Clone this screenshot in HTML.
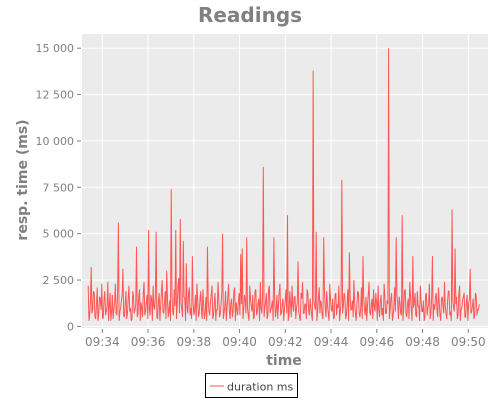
<!DOCTYPE html>
<html><head><meta charset="utf-8"><style>
body{margin:0;background:#fff;}
svg{display:block;font-family:"DejaVu Sans","Liberation Sans",sans-serif;}
</style></head><body>
<svg width="500" height="400">
<text x="250" y="22" text-anchor="middle" font-size="20" font-weight="bold" fill="#808080">Readings</text>
<rect x="82" y="34" width="406" height="294" fill="#ebebeb"/>
<g id="grid"></g>
<g id="yaxis"></g>
<g id="xaxis"></g>
<path id="line" fill="none" stroke="#ff5555" stroke-width="1"/>
<text transform="translate(27,180) rotate(-90)" text-anchor="middle" font-size="14" font-weight="bold" fill="#808080">resp. time (ms)</text>
<text x="284" y="365" text-anchor="middle" font-size="14" font-weight="bold" fill="#808080">time</text>
<g>
<rect x="205.5" y="373.5" width="92" height="24" fill="#fff" stroke="#000"/>
<line x1="210" y1="386" x2="224" y2="386" stroke="#ff5555"/>
<text x="227" y="390.5" font-size="11" fill="#444">duration ms</text>
</g>
</svg>
<script>
const startSec = 9*3600 + 33*60 + 23;
const stepSec = 3.96;
const durations = [
2200,600,3200,900,1800,400,2100,700,1500,2300,
500,1900,800,2400,1100,300,1700,900,2300,600,
5600,800,1400,3100,500,1900,700,2200,1000,400,
1600,900,4300,700,2000,1300,500,2400,800,1700,
5200,600,1500,2200,900,5100,400,1800,1100,2500,
700,1900,3000,500,1400,7400,800,2000,5200,1200,
2600,5800,900,4600,1500,3400,700,2100,1000,3800,
600,1700,2300,500,1400,900,2000,400,1600,4300,
800,1300,2200,600,1800,900,2400,500,1200,5000,
700,1900,1000,2300,400,1500,800,2100,1300,600,
1800,3900,4200,900,1400,4800,600,2200,1100,1700,
500,2000,800,1500,2400,700,8600,1000,1800,600,
2200,900,1400,4800,500,1700,1100,2300,700,1500,
900,2000,6000,600,1300,2200,800,1600,1000,3500,
500,1800,2400,700,1200,2000,900,1500,600,13800,
1100,5100,800,2100,1400,600,4800,1000,1900,700,
2300,900,1500,500,1800,1200,2200,800,7900,1100,
1600,600,2000,4000,900,1400,2500,700,1200,1800,
500,2100,3800,900,1600,1100,2400,600,1500,2000,
800,1300,2200,500,1700,1000,2300,700,1400,15000,
900,1800,600,2100,4800,1200,1600,700,6000,1000,
2000,500,1500,2400,900,3800,1300,600,1900,1100,
2200,800,1400,500,1800,1000,2300,700,3800,1200,
1600,900,2100,600,1500,1100,2400,700,1300,1900,
800,6300,1000,4200,1600,600,2200,900,1400,1800,
500,1700,1200,3100,800,1500,600,1600,900,1200];
const durationsMid = [
300,1400,700,1900,500,1200,300,1600,900,400,
1500,600,1100,300,1800,800,400,1300,700,1900,
300,1000,1700,600,1200,400,1500,800,300,1900,
700,1200,500,1600,300,1000,1800,600,1300,400,
900,1700,300,1100,1600,500,1400,300,1900,800,
1200,400,1500,900,300,1700,600,1100,400,2200,
700,1300,500,1600,300,1000,1800,600,400,1300,
900,300,1500,700,1900,400,1100,800,300,1400,
600,1700,400,1200,300,900,1500,700,1800,400,
1100,300,1600,800,1300,500,1900,300,900,1400,
600,1200,400,1700,700,1000,300,1500,800,400,
1900,600,1200,300,1000,1600,500,1300,400,2000,
700,1100,300,1500,900,400,1800,600,1200,300,
1400,700,300,1900,500,1100,1600,400,1300,800,
300,1500,700,1200,400,1800,600,1000,300,1400,
900,300,1600,700,1200,400,1900,500,1100,300,
1500,800,400,1700,600,1000,300,1400,700,1800,
400,1200,300,1600,900,500,1300,300,1900,700,
1000,400,1500,600,300,1700,800,1200,400,1100,
1800,300,900,1400,600,300,1600,700,1200,400,
1500,300,1100,800,1700,400,1300,600,300,1900,
700,1200,400,1600,300,1000,1800,500,1100,300,
1400,800,300,1700,600,1200,400,1500,300,900,
1800,500,1300,300,1600,700,1100,400,1900,600,
300,1400,800,1200,400,1700,300,1000,1600,500,
1300,300,1500,700,1100,400,1800,600,900,1100];
const yTicks = [0,2500,5000,7500,10000,12500,15000];
const yTickLabels = ["0","2 500","5 000","7 500","10 000","12 500","15 000"];
const xTickLabels = ["09:34","09:36","09:38","09:40","09:42","09:44","09:46","09:48","09:50"];

const NS="http://www.w3.org/2000/svg";
const x0Sec=9*3600+34*60, pxPerSec=22.875/60, x0Px=102.3;
const xs = s => x0Px + (s - x0Sec)*pxPerSec;
const ys = v => 326.4 - v*(278.2/15000);
function mk(tag, attrs, parent){const e=document.createElementNS(NS,tag);for(const k in attrs)e.setAttribute(k,attrs[k]);parent.appendChild(e);return e;}
const grid=document.getElementById('grid'), ya=document.getElementById('yaxis'), xa=document.getElementById('xaxis');
yTicks.forEach((v,i)=>{
  const y=ys(v);
  const g=mk('line',{x1:82,x2:488,y1:y,y2:y,stroke:'#fff','stroke-width':1},grid);
  
  
  mk('line',{x1:77,x2:81,y1:y,y2:y,stroke:'#808080'},ya);
  const t=mk('text',{x:74,y:y+4,'text-anchor':'end','font-size':11,fill:'#808080'},ya);
  t.textContent=yTickLabels[i];
  
  
});
xTickLabels.forEach(lbl=>{
  const p=lbl.split(':');
  const x=xs(+p[0]*3600 + +p[1]*60);
  const g=mk('line',{x1:x,x2:x,y1:34,y2:328,stroke:'#fff','stroke-width':1},grid);
  
  
  mk('line',{x1:x,x2:x,y1:329,y2:333,stroke:'#808080'},xa);
  const t=mk('text',{x:x,y:346,'text-anchor':'middle','font-size':12,fill:'#808080'},xa);
  t.textContent=lbl;
  
  
});
let d='';
durations.forEach((v,i)=>{
  const s=startSec+i*stepSec;
  d+=(i?'L':'M')+xs(s).toFixed(2)+' '+ys(v).toFixed(2);
  if(i<durations.length-1 && durationsMid[i]!==undefined){
    d+='L'+xs(s+stepSec/2).toFixed(2)+' '+ys(durationsMid[i]).toFixed(2);
  }
});
document.getElementById('line').setAttribute('d',d);
</script>
</body></html>
